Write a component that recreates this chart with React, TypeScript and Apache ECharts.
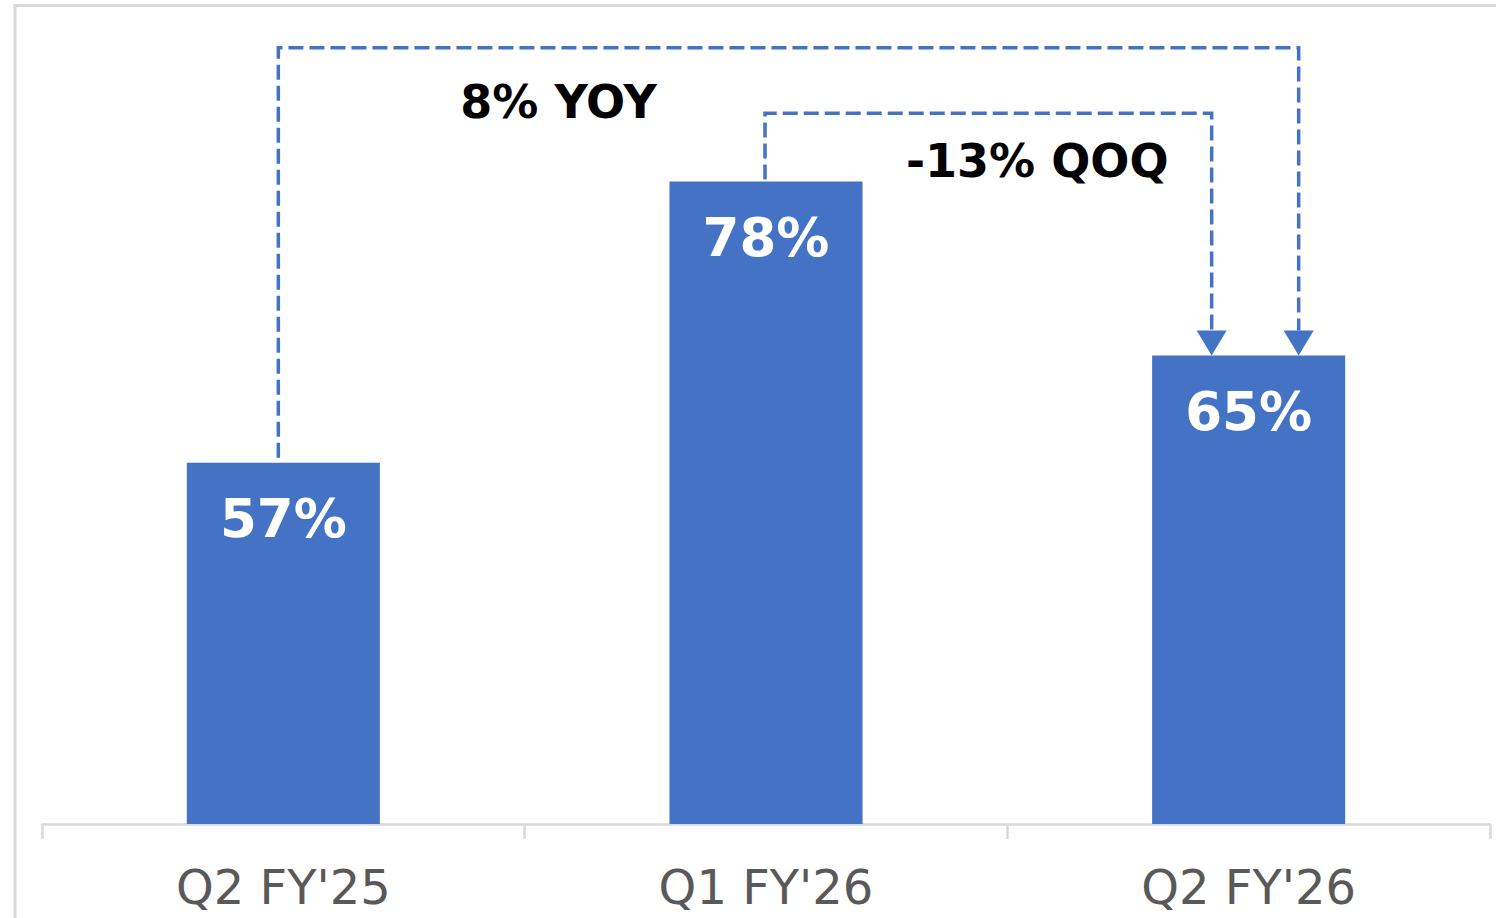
import React, { useEffect, useRef } from "react";
import * as echarts from "echarts";

const categories = ["Q2 FY'25", "Q1 FY'26", "Q2 FY'26"];
const values = [57, 78, 65];
const valueLabels = ["57%", "78%", "65%"];
const yAxisRange = [30, 90];
const yoyText = "8% YOY";
const qoqText = "-13% QOQ";
// bracket levels (in axis units)
const yoyLevel = 88;
const qoqLevel = 83.1;

const BLUE = "#4472C4";
const GREY = "#d9d9d9";

export default function App() {
  const ref = useRef<HTMLDivElement>(null);
  useEffect(() => {
    if (!ref.current) return;
    const chart = echarts.init(ref.current, null, { renderer: "svg" });
    chart.setOption({
      animation: false,
      grid: { left: 42, right: 6, top: 21, bottom: 94 },
      xAxis: {
        type: "category",
        data: categories,
        axisLine: { lineStyle: { color: GREY, width: 2.5 } },
        axisTick: { show: true, length: 15, lineStyle: { color: GREY, width: 2.5 } },
        axisLabel: {
          color: "#595959",
          fontSize: 48,
          fontFamily: "DejaVu Sans",
          margin: 39,
        },
      },
      yAxis: {
        type: "value",
        min: yAxisRange[0],
        max: yAxisRange[1],
        show: false,
        splitLine: { show: false },
      },
      series: [
        {
          type: "bar",
          data: values,
          barWidth: "40%",
          itemStyle: { color: BLUE },
          label: {
            show: true,
            position: "insideTop",
            distance: 29,
            formatter: (p: any) => valueLabels[p.dataIndex],
            color: "#ffffff",
            fontSize: 53,
            fontWeight: "bold",
            fontFamily: "DejaVu Sans",
          },
        },
      ],
    });

    const px = (i: number, v: number) => chart.convertToPixel({ gridIndex: 0 }, [i, v]) as number[];
    const p0 = px(0, values[0]);
    const p1 = px(1, values[1]);
    const p2 = px(2, values[2]);
    const yYoy = px(0, yoyLevel)[1];
    const yQoq = px(0, qoqLevel)[1];

    const yoyStartX = p0[0] - 5;
    const yoyEndX = p2[0] + 50;
    const qoqStartX = p1[0] - 1;
    const qoqEndX = p2[0] - 37;
    const arrowH = 25;
    const arrowW = 30;
    const tipY = p2[1];

    const dashStyle = { stroke: BLUE, lineWidth: 3.5, lineDash: [15, 6], fill: null };
    const arrow = (x: number) => ({
      type: "polygon",
      shape: { points: [[x - arrowW / 2, tipY - arrowH], [x + arrowW / 2, tipY - arrowH], [x, tipY]] },
      style: { fill: BLUE },
      z: 10,
    });

    chart.setOption({
      graphic: [
        {
          type: "rect",
          shape: { x: 15, y: 5.5, width: 1600, height: 1000 },
          style: { stroke: GREY, lineWidth: 3, fill: null },
          z: 0,
        },
        {
          type: "polyline",
          shape: { points: [[yoyStartX, p0[1] - 5], [yoyStartX, yYoy], [yoyEndX, yYoy], [yoyEndX, tipY - arrowH]] },
          style: dashStyle,
          z: 10,
        },
        {
          type: "polyline",
          shape: { points: [[qoqStartX, p1[1] - 2], [qoqStartX, yQoq], [qoqEndX, yQoq], [qoqEndX, tipY - arrowH]] },
          style: dashStyle,
          z: 10,
        },
        arrow(yoyEndX),
        arrow(qoqEndX),
        {
          type: "text",
          x: yoyStartX + 182,
          y: yYoy + 54,
          style: {
            text: yoyText,
            fill: "#000000",
            fontSize: 46,
            fontWeight: "bold",
            fontFamily: "DejaVu Sans",
            verticalAlign: "middle",
            align: "left",
          },
          z: 10,
        },
        {
          type: "text",
          x: qoqStartX + 141,
          y: yQoq + 48,
          style: {
            text: qoqText,
            fill: "#000000",
            fontSize: 46,
            fontWeight: "bold",
            fontFamily: "DejaVu Sans",
            verticalAlign: "middle",
            align: "left",
          },
          z: 10,
        },
      ],
    });
    return () => chart.dispose();
  }, []);
  return (
    <div
      ref={ref}
      style={{ position: "fixed", left: 0, top: 0, width: 1496, height: 918, background: "#ffffff" }}
    />
  );
}
